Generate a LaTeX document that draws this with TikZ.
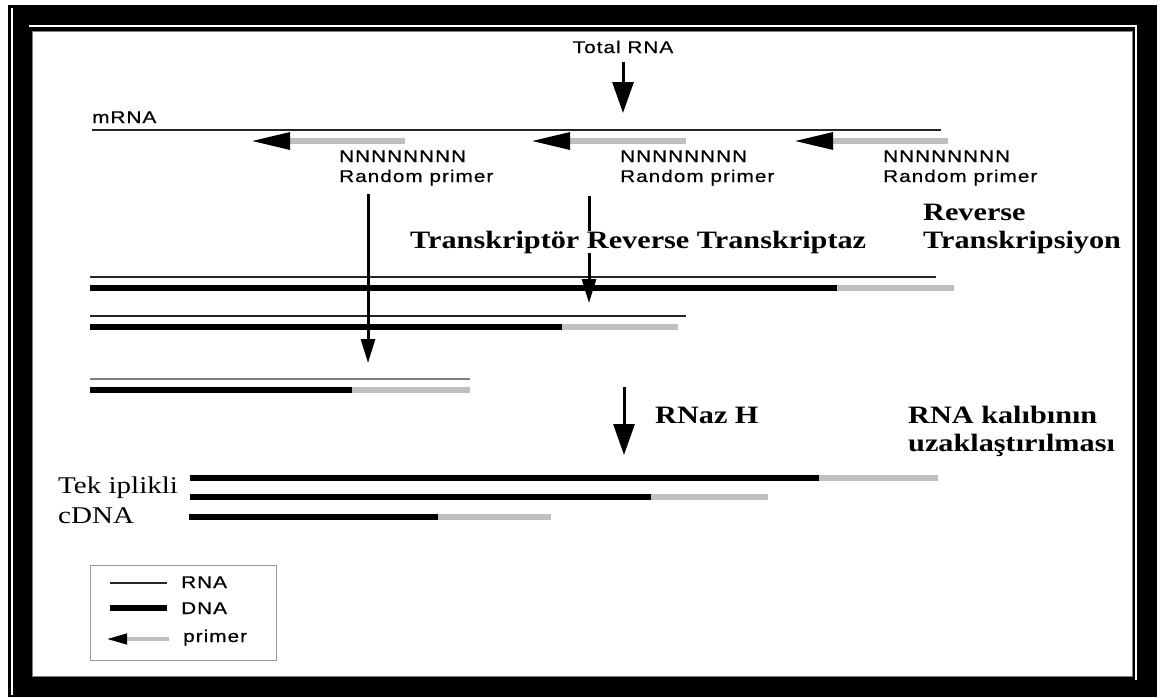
\documentclass[tikz,border=0pt]{standalone}
\usepackage{fontspec}
\setmainfont{Liberation Serif}
\newfontfamily\labelfont[FakeStretch=1.22,LetterSpace=6,FakeBold=0.6]{Liberation Sans}
\newfontfamily\stepfont[FakeStretch=1.21]{Liberation Serif}
\usepackage{tikz}
\usetikzlibrary{arrows.meta,positioning}

\tikzset{
  rna/.style={line width=1.5pt, black!85},
  dna/.style={line width=6pt, black},
  ext/.style={line width=6pt, black!25},
  primer/.style={line width=6pt, black!25, -{Triangle[width=16pt,length=40pt,color=black]}},
  legprimer/.style={line width=4pt, black!25, -{Triangle[width=10pt,length=21pt,color=black]}},
  bigarrow/.style={line width=3pt, -{Triangle[width=21pt,length=31pt]}},
  thinarrow/.style={line width=3pt, -{Triangle[width=14pt,length=24pt]}},
  lbl/.style={font=\labelfont\fontsize{17}{19}\selectfont, inner sep=0pt, anchor=base west},
  stepname/.style={font=\stepfont\bfseries\fontsize{25}{28}\selectfont, inner sep=0pt, anchor=base west},
  cdnaname/.style={font=\stepfont\fontsize{24}{26}\selectfont, inner sep=0pt, anchor=base west}
}

\begin{document}
\begin{tikzpicture}[x=1pt,y=-1pt]
            \useasboundingbox (0,0) rectangle (1162,697);
            \fill[white] (0,0) rectangle (1162,697);

            % frame
            \fill[black] (8,5) rectangle (1157,697);
            \draw[white, line width=1.5pt] (12,8) -- (12,695);
            \draw[white, line width=1.5pt] (29,26) -- (1136,26) -- (1136,680);
            \fill[white, draw=black!50, line width=1pt] (32,31) rectangle (1132,676);

            % total RNA and mRNA
            \node[lbl, anchor=base] (total) at (623,53){Total RNA};
            \coordinate (t1) at (623,113);
            \draw[bigarrow, shorten <=9pt] (total.south) -- (t1);

            \node[lbl] (mrna) at (92,123){mRNA};
            \draw[rna] (92,130) -- (941,130);

            \draw[primer] (405,141) -- (250,141);
            \draw[primer] (686,141) -- (530,141);
            \draw[primer] (948,141) -- (793,141);

            \node[lbl] (n1) at (339,162){NNNNNNNN};
            \node[lbl] (rp1) at (339,182){Random primer};
            \node[lbl] (n2) at (620,162){NNNNNNNN};
            \node[lbl] (rp2) at (620,182){Random primer};
            \node[lbl] (n3) at (883,162){NNNNNNNN};
            \node[lbl] (rp3) at (883,182){Random primer};

            % RNA/DNA hybrids
            \draw[rna] (90,277) -- (936,277);
            \draw[dna] (90,288) -- (837,288);
            \draw[ext] (837,288) -- (954,288);

            \draw[rna] (90,316) -- (686,316);
            \draw[dna] (90,327) -- (562,327);
            \draw[ext] (562,327) -- (678,327);

            \draw[line width=2.5pt, black!50] (90,379) -- (470,379);
            \draw[dna] (90,390) -- (352,390);
            \draw[ext] (352,390) -- (470,390);

            \coordinate (a1) at (368,363);
            \coordinate (a2) at (589,303);
            \draw[thinarrow, shorten <=8pt] (rp1.south -| a1) -- (a1);
            \draw[thinarrow, shorten <=10pt] (rp2.south -| a2) -- (a2);

            \node[stepname, fill=white] (rt) at (410,248){Transkriptör Reverse Transkriptaz};
            \node[stepname] (rev1) at (923,220){Reverse};
            \node[stepname] (rev2) at (923,248){Transkripsiyon};

            % RNase H step
            \coordinate (h1) at (624,387);
            \coordinate (h2) at (624,455);
            \draw[bigarrow] (h1) -- (h2);
            \node[stepname] (rnaz) at (655,423){RNaz H};
            \node[stepname] (kal1) at (908,423){RNA kalıbının};
            \node[stepname] (kal2) at (908,451){uzaklaştırılması};

            % single strand cDNA
            \draw[dna] (190,478) -- (819,478);
            \draw[ext] (819,478) -- (938,478);
            \draw[dna] (190,497) -- (651,497);
            \draw[ext] (651,497) -- (768,497);
            \draw[dna] (189,517) -- (438,517);
            \draw[ext] (438,517) -- (551,517);
            \node[cdnaname] (tek) at (58,493){Tek iplikli};
            \node[cdnaname] (cdna) at (58,523){cDNA};

            % legend
            \node[draw=black!40, line width=1pt, minimum width=186pt, minimum height=95pt,
                  inner sep=0pt, anchor=north west] (legend) at (90,565){};
            \draw[rna] (110,583) -- (167,583);
            \node[lbl] (lrna) at (181,588){RNA};
            \draw[dna] (110,608) -- (167,608);
            \node[lbl] (ldna) at (181,614){DNA};
            \draw[legprimer] (169,639) -- (106,639);
            \node[lbl] (lprimer) at (183,642){primer};
        \end{tikzpicture}
\end{document}
